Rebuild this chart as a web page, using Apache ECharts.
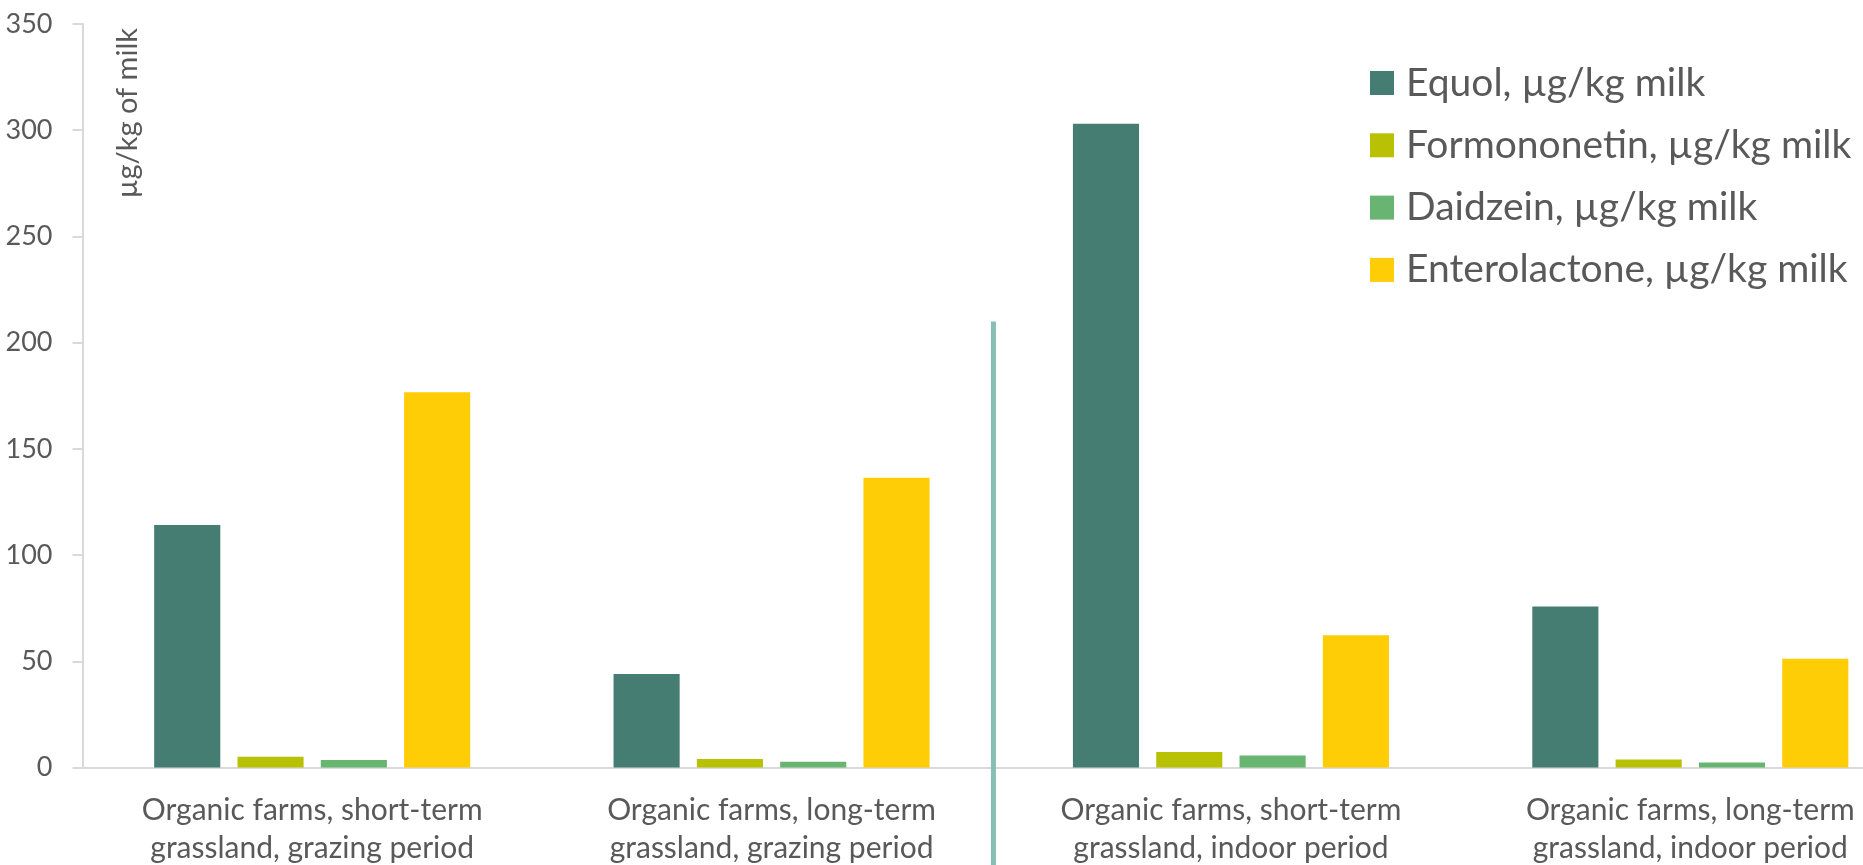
<!DOCTYPE html>
<html>
<head>
<meta charset="utf-8">
<script src="https://cdn.jsdelivr.net/npm/echarts@6/dist/echarts.min.js"></script>
<style>
  html, body { margin: 0; padding: 0; background: #ffffff; overflow: hidden; width: 1863px; height: 865px; }
  /* the plot runs past the right edge of the page, so the last group is partly cut off */
  #chart { width: 1920px; height: 865px; }
</style>
</head>
<body>
<div id="chart"></div>
<script>
// Farm groups shown along the x axis
const categories = [
  'Organic farms, short-term\ngrassland, grazing period',
  'Organic farms, long-term\ngrassland, grazing period',
  'Organic farms, short-term\ngrassland, indoor period',
  'Organic farms, long-term\ngrassland, indoor period'
];

// Concentrations in milk, µg/kg
const equol         = [114.1, 44.0, 303.0, 75.8];
const formononetin  = [5.1, 4.0, 7.3, 3.8];
const daidzein      = [3.5, 2.7, 5.7, 2.3];
const enterolactone = [176.6, 136.4, 62.3, 51.2];

const seriesNames = [
  'Equol, µg/kg milk',
  'Formononetin, µg/kg milk',
  'Daidzein, µg/kg milk',
  'Enterolactone, µg/kg milk'
];
const seriesColors = ['#467d73', '#b8c104', '#68b571', '#ffcd06'];

// Y axis scale
const yMin = 0, yMax = 350, yStep = 50;
// Height at which the grazing / indoor separator starts
const separatorTop = 210;

const textColor = '#595959';
const axisColor = '#d9d9d9';
const fontFamily = 'Lato, "Open Sans", sans-serif';

const chart = echarts.init(document.getElementById('chart'), null, { renderer: 'canvas' });

const values = [equol, formononetin, daidzein, enterolactone];

chart.setOption({
  animation: false,
  backgroundColor: '#ffffff',
  textStyle: { fontFamily: fontFamily },
  grid: {
    left: 82.5, top: 24, right: 0, bottom: 97.5,
    containLabel: false,
    outerBoundsMode: 'none'
  },
  legend: {
    orient: 'vertical',
    left: 1370,
    top: 61,
    padding: 0,
    itemWidth: 24,
    itemHeight: 24,
    itemGap: 18.3,
    icon: 'rect',
    textStyle: {
      fontFamily: fontFamily,
      fontSize: 39,
      color: textColor,
      lineHeight: 44,
      padding: [0, 0, 0, 7]
    },
    data: seriesNames
  },
  xAxis: {
    type: 'category',
    data: categories,
    axisLine: { show: true, lineStyle: { color: axisColor, width: 2 } },
    axisTick: { show: false },
    axisLabel: {
      interval: 0,
      margin: 24,
      fontFamily: fontFamily,
      fontSize: 30,
      lineHeight: 38,
      color: textColor,
      align: 'center'
    },
    splitLine: { show: false }
  },
  yAxis: {
    type: 'value',
    min: yMin,
    max: yMax,
    interval: yStep,
    axisLine: { show: true, lineStyle: { color: axisColor, width: 2 } },
    axisTick: { show: true, length: 10, lineStyle: { color: axisColor, width: 2 } },
    axisLabel: {
      margin: 30,
      fontFamily: fontFamily,
      fontSize: 27,
      color: textColor
    },
    splitLine: { show: false }
  },
  series: seriesNames.map((name, i) => ({
    name: name,
    type: 'bar',
    data: values[i],
    barGap: '26%',
    barCategoryGap: '31.2%',
    itemStyle: { color: seriesColors[i] }
  }))
});

// Vertical separator between grazing-period and indoor-period groups,
// and the rotated unit caption next to the value axis.
const c1 = chart.convertToPixel({ xAxisIndex: 0 }, 1);
const c2 = chart.convertToPixel({ xAxisIndex: 0 }, 2);
const sepX = c1 + 0.483 * (c2 - c1);
const sepY = chart.convertToPixel({ yAxisIndex: 0 }, separatorTop);

chart.setOption({
  graphic: [
    {
      type: 'line',
      shape: { x1: sepX, y1: sepY, x2: sepX, y2: 865 },
      style: { stroke: '#88bfb5', lineWidth: 5 },
      z: 10
    },
    {
      type: 'text',
      x: 128,
      y: 28,
      rotation: Math.PI / 2,
      style: {
        text: 'µg/kg of milk',
        fontFamily: fontFamily,
        fontSize: 29,
        fill: textColor,
        align: 'right',
        verticalAlign: 'middle'
      }
    }
  ]
});
</script>
</body>
</html>
